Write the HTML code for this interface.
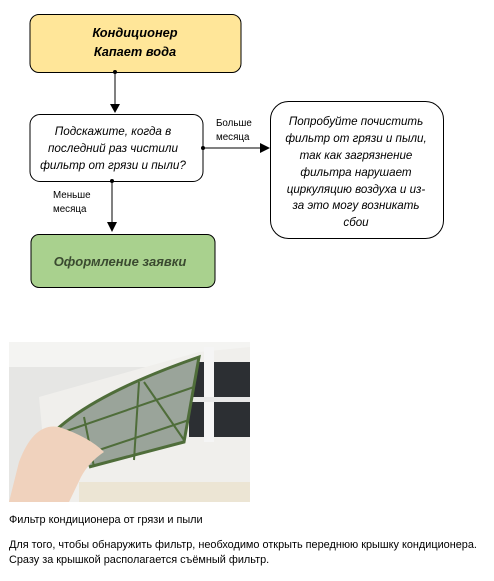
<!DOCTYPE html>
<html><head><meta charset="utf-8"><style>
html,body{margin:0;padding:0;background:#fff;width:494px;height:581px;overflow:hidden;position:relative;font-family:"Liberation Sans","DejaVu Sans",sans-serif}
.t{position:absolute;color:#000}
</style></head><body>
<svg width="494" height="340" style="position:absolute;left:0;top:0" font-family="Liberation Sans, DejaVu Sans, sans-serif">
<rect x="30" y="14.5" width="211" height="58" rx="9" fill="#ffe699" stroke="#000" stroke-width="1"/>
<text x="135" y="37" text-anchor="middle" font-size="12.8" font-weight="bold" font-style="italic">Кондиционер</text>
<text x="135" y="56" text-anchor="middle" font-size="12.8" font-weight="bold" font-style="italic">Капает вода</text>
<line x1="115" y1="72" x2="115" y2="104" stroke="#000"/>
<polygon points="110,104 120,104 115,113" fill="#000"/>
<circle cx="115" cy="72" r="2" fill="#000"/>
<rect x="30" y="114.5" width="173" height="67" rx="10" fill="#fff" stroke="#000"/>
<text x="113" y="135" text-anchor="middle" font-size="11.7" font-style="italic">Подскажите, когда в</text>
<text x="113" y="152" text-anchor="middle" font-size="11.7" font-style="italic">последний раз чистили</text>
<text x="113" y="169" text-anchor="middle" font-size="11.7" font-style="italic">фильтр от грязи и пыли?</text>
<line x1="203" y1="148" x2="260" y2="148" stroke="#000"/>
<polygon points="260,143 270,148 260,153" fill="#000"/>
<circle cx="203" cy="148" r="2" fill="#000"/>
<text x="216" y="126" font-size="9.8">Больше</text>
<text x="216" y="140" font-size="9.8">месяца</text>
<line x1="112" y1="181" x2="112" y2="222" stroke="#000"/>
<polygon points="107,222 117,222 112,232" fill="#000"/>
<circle cx="112" cy="181" r="2" fill="#000"/>
<text x="53" y="198" font-size="9.8">Меньше</text>
<text x="53" y="212" font-size="9.8">месяца</text>
<rect x="270.5" y="101.5" width="173" height="137" rx="18" fill="#fff" stroke="#000"/>
<g font-size="11.6" font-style="italic" text-anchor="middle">
<text x="356" y="125">Попробуйте почистить</text>
<text x="356" y="142">фильтр от грязи и пыли,</text>
<text x="356" y="159">так как загрязнение</text>
<text x="356" y="176">фильтра нарушает</text>
<text x="356" y="193">циркуляцию воздуха и из-</text>
<text x="356" y="209">за это могу возникать</text>
<text x="356" y="226">сбои</text>
</g>
<rect x="31" y="234.5" width="184" height="53" rx="8" fill="#a9d18e" stroke="#000"/>
<text x="120" y="266" text-anchor="middle" font-size="13" font-weight="bold" font-style="italic" fill="#3a4a30">Оформление заявки</text>
</svg>
<svg width="241" height="160" style="position:absolute;left:9px;top:342px">
<rect width="241" height="160" fill="#e6e6e4"/>
<rect x="0" y="0" width="241" height="25" fill="#f4f4f2"/>
<path d="M30 55 L190 10 L241 5 L241 160 L40 160 Z" fill="#f0efec"/>
<rect x="180" y="20" width="61" height="75" fill="#2c2f33"/>
<rect x="195" y="5" width="10" height="95" fill="#f5f5f5"/>
<rect x="180" y="55" width="61" height="5" fill="#e8e8e8"/>
<path d="M28 110 Q60 60 190 15 L175 100 L80 125 L70 110 Z" fill="#9aa49a"/>
<path d="M28 110 Q60 60 190 15 L175 100 L80 125" fill="none" stroke="#4f6d3a" stroke-width="3"/>
<path d="M75 75 L85 125 M130 40 L125 118 M135 40 L175 98" stroke="#4f6d3a" stroke-width="2" fill="none"/>
<path d="M40 95 L185 45 M60 118 L180 78" stroke="#4f6d3a" stroke-width="2" fill="none"/>
<rect x="70" y="140" width="171" height="20" fill="#ece5d4"/>
<path d="M0 160 L10 120 Q25 80 50 85 Q80 95 95 110 Q80 120 72 135 L60 160 Z" fill="#f0d2bd"/>
</svg>
<div class="t" style="left:9px;top:514px;font-size:10.9px">Фильтр кондиционера от грязи и пыли</div>
<div class="t" style="left:9px;top:538px;font-size:10.9px;line-height:15px;white-space:nowrap">Для того, чтобы обнаружить фильтр, необходимо открыть переднюю крышку кондиционера.<br>Сразу за крышкой располагается съёмный фильтр.</div>
</body></html>
